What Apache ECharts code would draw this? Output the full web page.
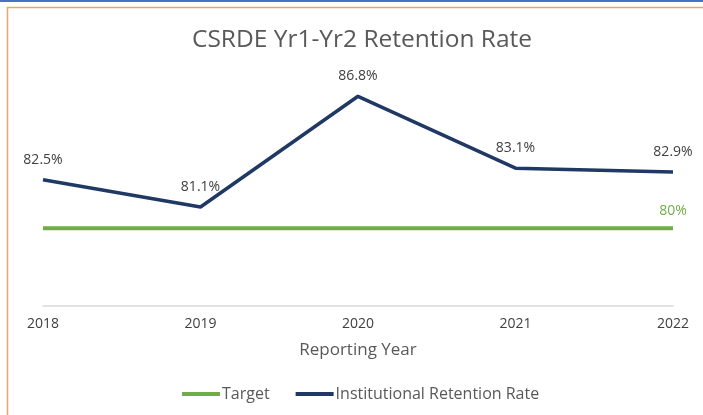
<!DOCTYPE html>
<html>
<head>
<meta charset="utf-8">
<script src="https://cdn.jsdelivr.net/npm/echarts@6/dist/echarts.min.js"></script>
<style>
  html, body { margin: 0; padding: 0; background: #fff; }
  #chart { width: 703px; height: 415px; }
</style>
</head>
<body>
<div id="chart"></div>
<script>
  const years = ["2018", "2019", "2020", "2021", "2022"];
  const retention = [82.5, 81.1, 86.8, 83.1, 82.9];
  const target = [80, 80, 80, 80, 80];

  const font = "'Open Sans', 'DejaVu Sans', sans-serif";
  const chart = echarts.init(document.getElementById("chart"));

  // only the last target point carries a label
  const targetData = target.map((v, i) =>
    i === target.length - 1
      ? { value: v, label: { show: true, formatter: "80%", color: "#70ad47" } }
      : v,
  );

  chart.setOption({
    backgroundColor: "#fff",
    animation: false,
    textStyle: { fontFamily: font },
    title: {
      text: "CSRDE Yr1-Yr2 Retention Rate",
      left: 187,
      top: 23,
      textStyle: { fontSize: 24.5, fontWeight: "normal", color: "#595959", fontFamily: font },
    },
    graphic: [
      { type: "rect", shape: { x: 0, y: 0, width: 703, height: 2 }, style: { fill: "#4472c4" } },
      {
        type: "rect",
        shape: { x: 7.5, y: 7.5, width: 720, height: 420 },
        style: { fill: "none", stroke: "#f4a06a", lineWidth: 1.5 },
      },
    ],
    grid: { left: 43, right: 30, top: 73, bottom: 109 },
    legend: {
      bottom: 8,
      left: 177,
      itemWidth: 38,
      itemHeight: 4,
      itemGap: 26,
      icon: "rect",
      textStyle: { fontSize: 16, color: "#595959", fontFamily: font, padding: [0, 0, 0, -3] },
      data: ["Target", "Institutional Retention Rate"],
    },
    xAxis: {
      type: "category",
      data: years,
      boundaryGap: false,
      name: "Reporting Year",
      nameLocation: "middle",
      nameGap: 36,
      nameTextStyle: { fontSize: 17, color: "#595959", fontFamily: font },
      axisLine: { lineStyle: { color: "#d9d9d9", width: 1.5 } },
      axisTick: { show: false },
      axisLabel: { fontSize: 14, color: "#404040", margin: 11, fontFamily: font },
    },
    yAxis: {
      type: "value",
      min: 76,
      max: 88,
      show: false,
    },
    series: [
      {
        name: "Target",
        type: "line",
        data: targetData,
        symbol: "circle",
        symbolSize: 0,
        itemStyle: { color: "#70ad47" },
        lineStyle: { color: "#70ad47", width: 4 },
        label: {
          show: false,
          position: "top",
          distance: 10,
          fontSize: 14,
          fontFamily: font,
        },
      },
      {
        name: "Institutional Retention Rate",
        type: "line",
        data: retention,
        symbol: "circle",
        symbolSize: 0,
        itemStyle: { color: "#203864" },
        lineStyle: { color: "#203864", width: 3.5 },
        label: {
          show: true,
          position: "top",
          distance: 13,
          formatter: (p) => p.value.toFixed(1) + "%",
          color: "#404040",
          fontSize: 14,
          fontFamily: font,
        },
      },
    ],
  });
</script>
</body>
</html>
